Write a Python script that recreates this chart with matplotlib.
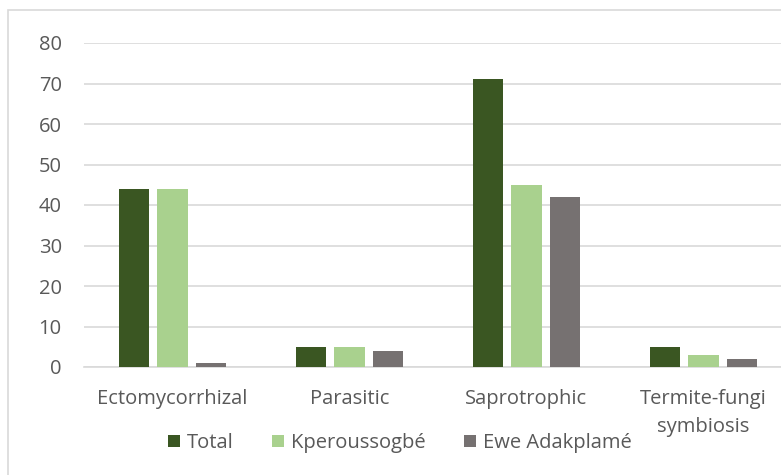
import matplotlib.pyplot as plt
import matplotlib.patches as mpatches
import numpy as np

categories = ['Ectomycorrhizal', 'Parasitic', 'Saprotrophic', 'Termite-fungi\nsymbiosis']
total = [44, 5, 71, 5]
kperoussogbe = [44, 5, 45, 3]
ewe_adakplame = [1, 4, 42, 2]
series_names = ['Total', 'Kperoussogbé', 'Ewe Adakplamé']
colors = ['#3A5622', '#A9D18E', '#767171']

plt.rcParams['font.family'] = ['Open Sans', 'DejaVu Sans']
W, H = 781, 475
fig = plt.figure(figsize=(W / 100, H / 100), dpi=100)

# outer chart border (partly cut off on right/bottom like the original)
fig.patches.append(mpatches.Rectangle((8 / W, -0.1), 1.2, 1 - 10 / H + 0.1,
                                      transform=fig.transFigure, fill=False,
                                      edgecolor='#D9D9D9', linewidth=1.2))

ax = fig.add_axes([84 / W, 1 - 367 / H, (792 - 84) / W, (367 - 43) / H])
x = np.arange(len(categories))
w = 0.17
off = 0.22
for i, (vals, name) in enumerate(zip([total, kperoussogbe, ewe_adakplame], series_names)):
    ax.bar(x + (i - 1) * off, vals, w, color=colors[i], label=name, zorder=3)

fs = 14.5
ax.set_xlim(-0.5, len(categories) - 0.5)
ax.set_ylim(0, 80)
ax.set_yticks(range(0, 81, 10))
ax.set_xticks(x)
ax.set_xticklabels(categories, fontsize=fs, color='#595959', linespacing=1.5)
ax.tick_params(axis='y', length=0, pad=16, labelsize=fs, labelcolor='#595959')
ax.tick_params(axis='x', length=0, pad=16)
ax.yaxis.grid(True, color='#D9D9D9', linewidth=1.2, zorder=0)
for s in ['top', 'right', 'left']:
    ax.spines[s].set_visible(False)
ax.spines['bottom'].set_color('#D9D9D9')
ax.spines['bottom'].set_linewidth(1.2)

fig.legend(loc='center', bbox_to_anchor=(400 / W, 1 - 443 / H), ncol=3, frameon=False,
           fontsize=fs, handlelength=0.6, handleheight=0.6, handletextpad=0.35,
           columnspacing=1.9, labelcolor='#595959')

fig.savefig('out.png', dpi=100)
